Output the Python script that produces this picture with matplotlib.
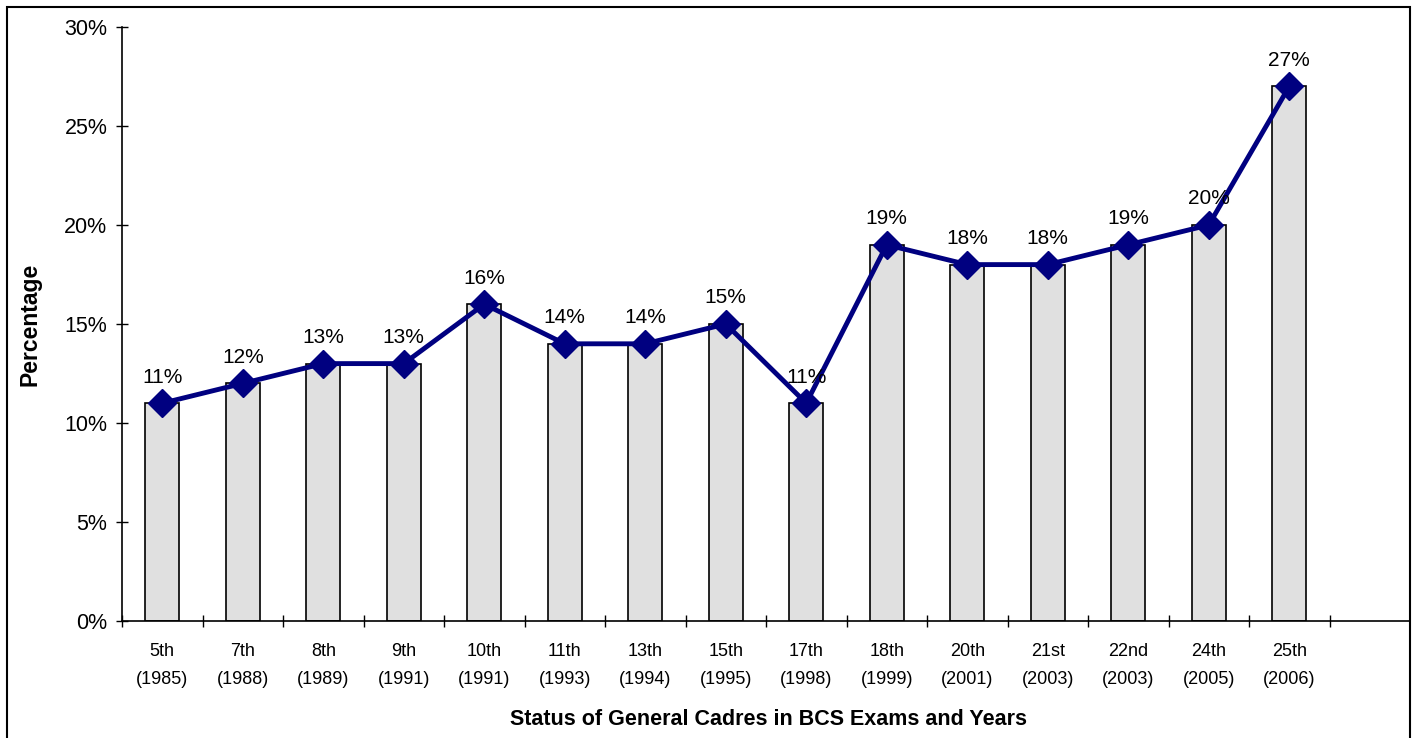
import matplotlib
matplotlib.use("Agg")
import matplotlib.pyplot as plt
from matplotlib.patches import Rectangle
import numpy as np

exams = ["5th", "7th", "8th", "9th", "10th", "11th", "13th", "15th", "17th",
         "18th", "20th", "21st", "22nd", "24th", "25th"]
years = ["1985", "1988", "1989", "1991", "1991", "1993", "1994", "1995", "1998",
         "1999", "2001", "2003", "2003", "2005", "2006"]
values = [11, 12, 13, 13, 16, 14, 14, 15, 11, 19, 18, 18, 19, 20, 27]
yticks = [0, 5, 10, 15, 20, 25, 30]

plt.rcParams['font.family'] = ['Liberation Sans', 'DejaVu Sans']

fig = plt.figure(figsize=(14.14, 7.38), dpi=100)
ax = fig.add_axes([122/1414, 1 - 621/738, (1410 - 122)/1414, (621 - 27)/738])

x = np.arange(len(values))
ax.bar(x, values, width=0.42, color="#E0E0E0", edgecolor="black", linewidth=1.2, zorder=2)
ax.plot(x, values, color="#000080", linewidth=3.5, marker="D", markersize=14,
        markerfacecolor="#000080", markeredgecolor="#000080", zorder=3)
for xi, v in zip(x, values):
    ax.annotate(f"{v}%", (xi, v), xytext=(0, 12), textcoords="offset points",
                ha="center", va="bottom", fontsize=15, zorder=4)

ax.set_xlim(-0.5, 15.5)
ax.set_ylim(0, 30)
ax.set_yticks(yticks)
ax.set_yticklabels([f"{t}%" for t in yticks], fontsize=15.5)
ax.tick_params(axis="y", direction="inout", length=9, width=1, pad=6)

ax.set_xticks(np.arange(len(values) + 1) - 0.5)
ax.set_xticklabels([])
ax.tick_params(axis="x", direction="inout", length=8, width=1)
ax.set_xticks(x, minor=True)
ax.set_xticklabels([f"{e}\n({y})" for e, y in zip(exams, years)], minor=True,
                   fontsize=13, linespacing=1.8)
ax.tick_params(axis="x", which="minor", length=0, pad=16)

for s in ["top", "right"]:
    ax.spines[s].set_visible(False)
for s in ["left", "bottom"]:
    ax.spines[s].set_linewidth(1.2)

ax.set_ylabel("Percentage", fontsize=16.5, fontweight="bold", labelpad=14)
ax.set_xlabel("Status of General Cadres in BCS Exams and Years", fontsize=15.5,
              fontweight="bold", labelpad=12)
ax.xaxis.set_label_coords((768 - 122) / (1410 - 122), -(709 - 621) / (621 - 27))
ax.yaxis.set_label_coords(-(122 - 41) / (1410 - 122), 0.5)

fig.patches.append(Rectangle((7/1414, -0.01), (1410 - 7)/1414, 1 - 7/738 + 0.01,
                             transform=fig.transFigure, fill=False,
                             edgecolor="black", linewidth=1.5))

fig.savefig("out.png", dpi=100)
